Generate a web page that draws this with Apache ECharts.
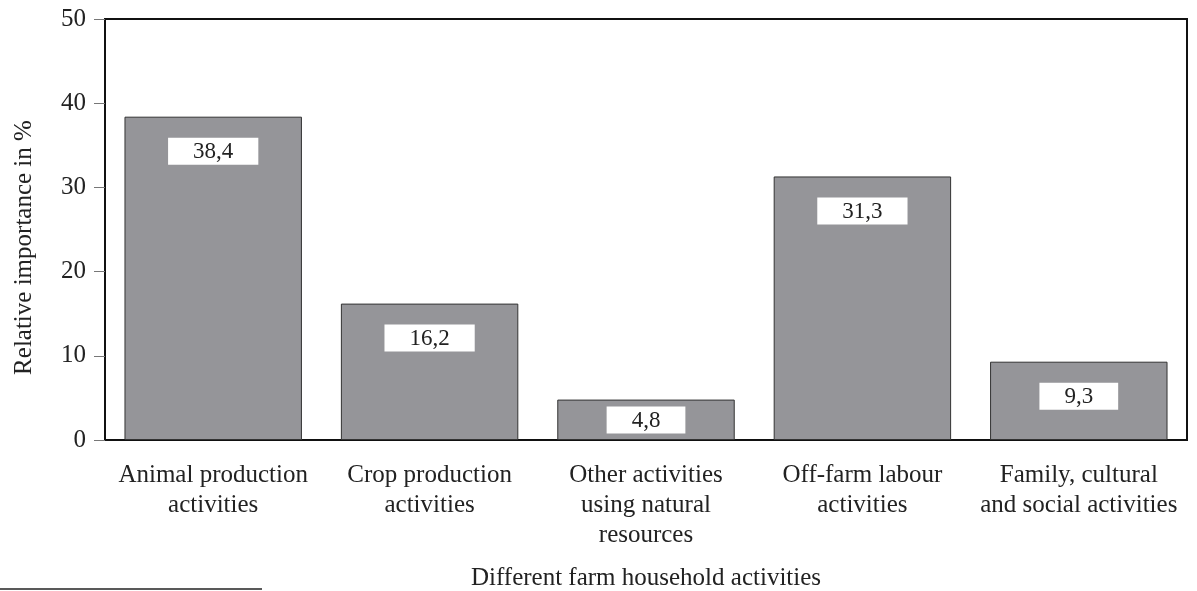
<!DOCTYPE html>
<html>
<head>
<meta charset="utf-8">
<script src="https://cdn.jsdelivr.net/npm/echarts@6/dist/echarts.min.js"></script>
<style>
  html, body { margin: 0; padding: 0; background: #fff; }
  #chart { width: 1197px; height: 591px; }
</style>
</head>
<body>
<div id="chart"></div>
<script>
// categories and values
var categories = [
  'Animal production\nactivities',
  'Crop production\nactivities',
  'Other activities\nusing natural\nresources',
  'Off-farm labour\nactivities',
  'Family, cultural\nand social activities'
]
var values = [38.4, 16.2, 4.8, 31.3, 9.3]
var yTicks = [0, 10, 20, 30, 40, 50]

var font = '"Liberation Serif", "Times New Roman", serif'

var myChart = echarts.init(document.getElementById('chart'))

myChart.setOption({
  animation: false,
  grid: {
    left: 105, right: 10, top: 19, bottom: 151,
    outerBoundsMode: 'none',
    show: true, borderColor: '#111', borderWidth: 2
  },
  xAxis: {
    type: 'category',
    data: categories,
    name: 'Different farm household activities',
    nameLocation: 'middle',
    nameGap: 126,
    nameTextStyle: { fontFamily: font, fontSize: 25, color: '#222' },
    axisLine: { lineStyle: { color: '#111', width: 2 } },
    axisTick: { alignWithLabel: true, length: 12, lineStyle: { color: '#777' } },
    axisLabel: { fontFamily: font, fontSize: 25, color: '#222', lineHeight: 30, margin: 20, interval: 0 }
  },
  yAxis: {
    type: 'value',
    min: yTicks[0],
    max: yTicks[yTicks.length - 1],
    interval: 10,
    name: 'Relative importance in %',
    nameLocation: 'middle',
    nameGap: 68,
    // push the rotated title a little below the middle, as in the original
    nameTextStyle: { fontFamily: font, fontSize: 25, color: '#222', padding: [0, 36, 0, 0] },
    splitLine: { show: false },
    axisLine: { show: true, lineStyle: { color: '#111', width: 2 } },
    axisTick: { show: true, length: 11, lineStyle: { color: '#777' } },
    axisLabel: { fontFamily: font, fontSize: 25, color: '#222', margin: 19 }
  },
  series: [{
    type: 'bar',
    barWidth: '82%',
    data: values.map(function (v) {
      var item = { value: v }
      // the smallest bar has its label pushed closer to the top
      if (v < 6) item.label = { distance: 7 }
      return item
    }),
    itemStyle: { color: '#959599', borderColor: '#333', borderWidth: 1 },
    label: {
      show: true,
      position: 'insideTop',
      distance: 21,
      formatter: function (p) { return String(p.value).replace('.', ',') },
      fontFamily: font,
      fontSize: 23,
      color: '#222',
      backgroundColor: '#fff',
      padding: [3, 25, 1, 25],
      lineHeight: 23
    }
  }],
  graphic: [{
    type: 'line',
    shape: { x1: 0, y1: 589, x2: 262, y2: 589 },
    style: { stroke: '#222', lineWidth: 1.5 }
  }]
})
</script>
</body>
</html>
